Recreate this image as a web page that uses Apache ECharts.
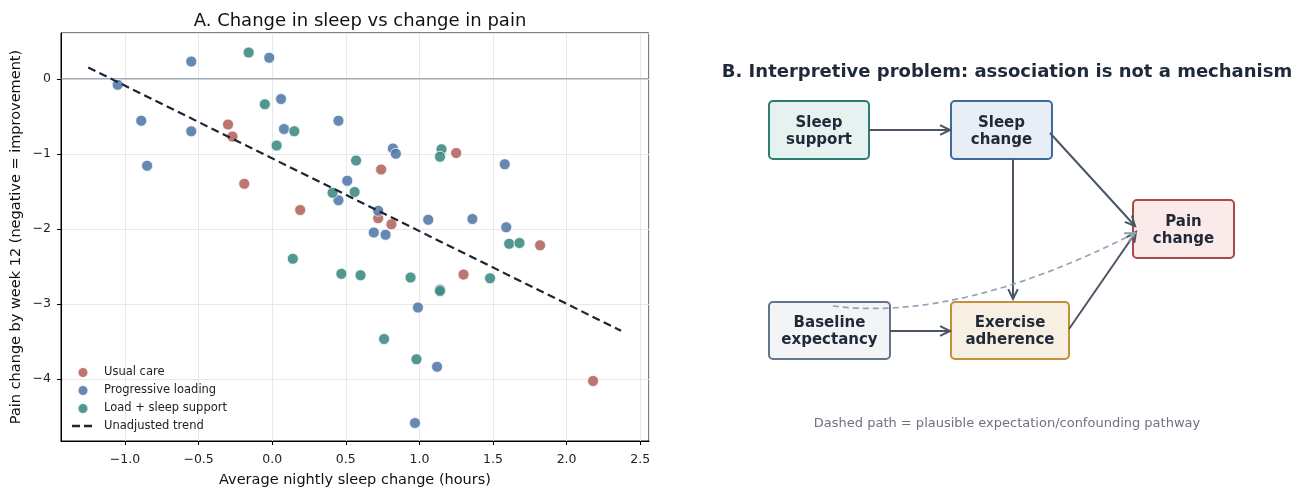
<!DOCTYPE html>
<html lang="en">
<head>
<meta charset="UTF-8">
<title>Sleep vs pain</title>
<script src="https://cdn.jsdelivr.net/npm/echarts@6/dist/echarts.min.js"></script>
<style>
  html, body { margin: 0; padding: 0; background: #fff; }
  #main { width: 1306px; height: 488px; }
</style>
</head>
<body>
<div id="main"></div>
<script>
// sleep change (h), pain change
var usualCare = [
  [-0.30, -0.61], [-0.27, -0.77], [-0.19, -1.40], [0.19, -1.75], [0.74, -1.21],
  [1.25, -0.99], [0.72, -1.86], [0.81, -1.94], [1.82, -2.22], [1.30, -2.61], [2.18, -4.03]
];
var progressive = [
  [-0.55, 0.23], [-0.02, 0.28], [-1.05, -0.08], [0.06, -0.27], [-0.89, -0.56],
  [0.45, -0.56], [-0.55, -0.70], [0.08, -0.67], [-0.85, -1.16], [0.51, -1.36],
  [0.45, -1.62], [0.82, -0.93], [0.84, -1.00], [1.58, -1.14], [0.72, -1.76],
  [1.06, -1.88], [1.36, -1.87], [1.59, -1.98], [0.69, -2.05], [0.77, -2.08],
  [1.14, -2.81], [0.99, -3.05], [1.12, -3.84], [0.97, -4.59]
];
var sleepSupport = [
  [-0.16, 0.35], [-0.05, -0.34], [0.15, -0.70], [0.03, -0.89], [0.57, -1.09],
  [0.41, -1.52], [0.56, -1.51], [1.15, -0.94], [1.14, -1.04], [1.61, -2.20],
  [1.68, -2.19], [0.60, -2.62], [0.94, -2.65], [1.48, -2.66], [1.14, -2.83],
  [0.76, -3.47], [0.98, -3.74], [0.14, -2.40], [0.47, -2.60]
];
var trendLine = [[-1.25, 0.15], [2.37, -3.36]];
var xRange = [-1.435, 2.56];
var yRange = [-4.83, 0.61];

var FONT = '"DejaVu Sans", sans-serif';
var INK = '#1f2937';
var ARROW = '#4b5563';

function minus(v) { return String(v).replace('-', '\u2212'); }

function box(x, y, w, h, fill, stroke, label) {
  return {
    type: 'group',
    children: [
      { type: 'rect', shape: { x: x, y: y, width: w, height: h, r: 4 },
        style: { fill: fill, stroke: stroke, lineWidth: 2 } },
      { type: 'text', x: x + w / 2, y: y + h / 2 + 1.5,
        style: { text: label, font: 'bold 15px ' + FONT, fill: INK,
          align: 'center', verticalAlign: 'middle', lineHeight: 17 } }
    ]
  };
}

function head(x2, y2, ang, color) {
  var L = 11, a = 0.45;
  return { type: 'polyline',
    shape: { points: [
      [x2 - L * Math.cos(ang - a), y2 - L * Math.sin(ang - a)],
      [x2, y2],
      [x2 - L * Math.cos(ang + a), y2 - L * Math.sin(ang + a)]
    ] },
    style: { stroke: color, lineWidth: 2, fill: null } };
}

function arrow(x1, y1, x2, y2) {
  var ang = Math.atan2(y2 - y1, x2 - x1);
  return { type: 'group', children: [
    { type: 'line', shape: { x1: x1, y1: y1, x2: x2, y2: y2 },
      style: { stroke: ARROW, lineWidth: 2 } },
    head(x2, y2, ang, ARROW)
  ] };
}

var curve = { x1: 833, y1: 306, cpx1: 960, cpy1: 322, x2: 1135, y2: 233 };
var dashColor = '#94a3b8';

var graphics = [
  box(769, 101, 100, 58, '#e6f2ef', '#2e7d73', 'Sleep\nsupport'),
  box(951, 101, 101, 58, '#e8eef6', '#3e6a9e', 'Sleep\nchange'),
  box(1133, 200, 101, 58, '#fbeaea', '#a94a4a', 'Pain\nchange'),
  box(769, 302, 121, 57, '#f3f4f6', '#64748b', 'Baseline\nexpectancy'),
  box(951, 302, 118, 57, '#f7efe2', '#c0913a', 'Exercise\nadherence'),
  arrow(869, 130, 950, 130),
  arrow(1013, 159, 1013, 299),
  arrow(1050, 133, 1135, 226),
  arrow(890, 331, 950, 331),
  arrow(1069, 329, 1136, 232),
  { type: 'bezierCurve', shape: curve,
    style: { stroke: dashColor, lineWidth: 1.7, lineDash: [6, 4], fill: null } },
  head(curve.x2, curve.y2, Math.atan2(curve.y2 - curve.cpy1, curve.x2 - curve.cpx1), dashColor),
  { type: 'text', x: 1007, y: 424,
    style: { text: 'Dashed path = plausible expectation/confounding pathway',
      font: '13px ' + FONT, fill: '#6b7280', align: 'center', verticalAlign: 'middle' } }
];

// legend icon for the dashed trend: two dashes, tiny corner dots keep the box 28x11
var dashIcon = 'path://M0,0h0.01v0.01h-0.01z M27.99,10.99h0.01v0.01h-0.01z M3,4.3h8v2.4h-8z M15,4.3h8v2.4h-8z';

var chart = echarts.init(document.getElementById('main'));
chart.setOption({
  animation: false,
  textStyle: { fontFamily: FONT },
  title: [
    { text: 'A. Change in sleep vs change in pain', left: 355, top: 7, textAlign: 'center',
      textStyle: { fontSize: 18, fontWeight: 'normal', color: '#111', fontFamily: FONT } },
    { text: 'B. Interpretive problem: association is not a mechanism', left: 1002, top: 58,
      textAlign: 'center',
      textStyle: { fontSize: 18, fontWeight: 'bold', color: INK, fontFamily: FONT } }
  ],
  grid: { left: 61, right: 657, top: 33, bottom: 47, show: true,
    borderColor: '#000', borderWidth: 1, containLabel: false, outerBoundsMode: 'none' },
  legend: {
    orient: 'vertical', left: 64, top: 361, padding: 5, itemGap: 5, itemWidth: 28, itemHeight: 11,
    textStyle: { fontSize: 11.5, color: '#222', fontFamily: FONT, padding: [0, 0, 0, 2] },
    data: [
      { name: 'Usual care', icon: 'circle' },
      { name: 'Progressive loading', icon: 'circle' },
      { name: 'Load + sleep support', icon: 'circle' },
      { name: 'Unadjusted trend', icon: dashIcon }
    ]
  },
  xAxis: {
    type: 'value', min: xRange[0], max: xRange[1], splitNumber: 8,
    name: 'Average nightly sleep change (hours)', nameLocation: 'middle', nameGap: 32,
    nameTextStyle: { fontSize: 14.5, color: '#111' },
    axisLine: { show: true, onZero: false, lineStyle: { color: '#000' } },
    axisTick: { show: true, length: 4, lineStyle: { color: '#000' } },
    axisLabel: { fontSize: 12.5, color: '#222', margin: 12, showMinLabel: false, showMaxLabel: false,
      formatter: function (v) { return minus(v.toFixed(1)); } },
    splitLine: { show: true, lineStyle: { color: '#e8e8e8' } }
  },
  yAxis: {
    type: 'value', min: yRange[0], max: yRange[1], splitNumber: 5,
    name: 'Pain change by week 12 (negative = improvement)', nameLocation: 'middle', nameGap: 37,
    nameTextStyle: { fontSize: 14.5, color: '#111' },
    axisLine: { show: true, onZero: false, lineStyle: { color: '#000' } },
    axisTick: { show: true, length: 4, lineStyle: { color: '#000' } },
    axisLabel: { fontSize: 12.5, color: '#222', margin: 10, showMinLabel: false, showMaxLabel: false,
      formatter: function (v) { return minus(Math.round(v)); } },
    splitLine: { show: true, lineStyle: { color: '#e8e8e8' } }
  },
  series: [
    { name: 'Zero', type: 'line', data: [[xRange[0], 0], [xRange[1], 0]], symbol: 'none',
      silent: true, lineStyle: { color: '#8193a6', width: 1 }, z: 1 },
    { name: 'Usual care', type: 'scatter', data: usualCare, symbolSize: 11,
      itemStyle: { color: '#b5675f', borderColor: '#fff', borderWidth: 0.8, opacity: 0.9 }, z: 3 },
    { name: 'Progressive loading', type: 'scatter', data: progressive, symbolSize: 11,
      itemStyle: { color: '#557cab', borderColor: '#fff', borderWidth: 0.8, opacity: 0.9 }, z: 3 },
    { name: 'Load + sleep support', type: 'scatter', data: sleepSupport, symbolSize: 11,
      itemStyle: { color: '#3f8c84', borderColor: '#fff', borderWidth: 0.8, opacity: 0.9 }, z: 3 },
    { name: 'Unadjusted trend', type: 'line', data: trendLine, symbol: 'none',
      itemStyle: { color: '#1f2430' },
      lineStyle: { color: '#1f2430', width: 2.2, type: [8, 4.5] }, z: 4 }
  ],
  graphic: graphics
});
</script>
</body>
</html>
